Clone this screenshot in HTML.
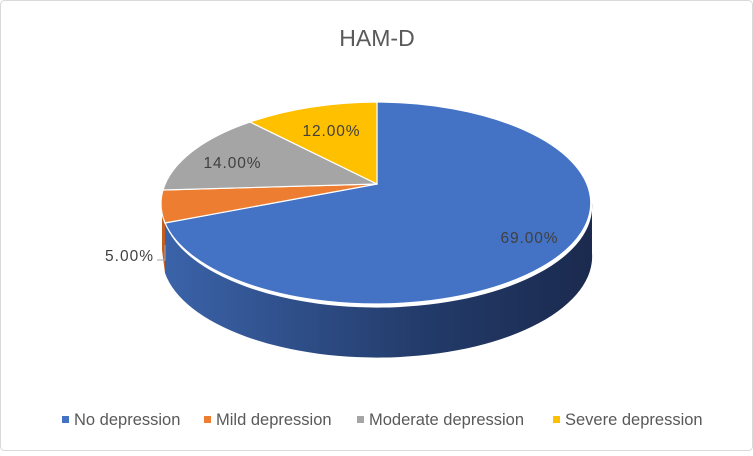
<!DOCTYPE html>
<html><head><style>
html,body{margin:0;padding:0;background:#fff;}
body{width:753px;height:451px;overflow:hidden;font-family:"Liberation Sans",sans-serif;}
</style></head><body>
<svg width="753" height="451" xmlns="http://www.w3.org/2000/svg">
<defs>
<linearGradient id="g" x1="0" x2="1" y1="0" y2="0">
<stop offset="0" stop-color="#3b63a9"/>
<stop offset="0.6" stop-color="#233b6a"/>
<stop offset="1" stop-color="#1b2a4e"/>
</linearGradient>
</defs>
<rect x="0.5" y="0.5" width="752" height="450" rx="4" fill="#fff" stroke="#d9d9d9"/>
<text x="377" y="46" text-anchor="middle" font-size="23" fill="#595959">HAM-D</text>
<path d="M165,223 A215,101 0 0,0 592,203 L592,253 A215,101 0 0,1 165,273 Z" fill="url(#g)"/>
<path d="M162,200 L165,223 L165,273 L162,250 Z" fill="#c45f1f"/>
<g stroke="#fff" stroke-width="1.2">
<path d="M377,184 L377,102 A215,101 0 1,1 165,223 Z" fill="#4472c4"/>
<path d="M377,184 L165,223 A215,101 0 0,1 163,190 Z" fill="#ed7d31"/>
<path d="M377,184 L163,190 A215,101 0 0,1 250,122 Z" fill="#a5a5a5"/>
<path d="M377,184 L250,122 A215,101 0 0,1 377,102 Z" fill="#ffc000"/>
</g>
<polyline points="157,260 165,260 165,245" fill="none" stroke="#a6a6a6" stroke-width="1"/>
<g font-size="15.5" fill="#404040">
<text x="529" y="243" text-anchor="middle" textLength="57">69.00%</text>
<text x="232" y="168" text-anchor="middle" textLength="57">14.00%</text>
<text x="331" y="136" text-anchor="middle" textLength="57">12.00%</text>
<text x="129" y="261" text-anchor="middle" textLength="48">5.00%</text>
</g>
<g font-size="16.5" fill="#595959">
<rect x="62" y="416" width="7" height="7" fill="#4472c4"/><text x="74" y="425">No depression</text>
<rect x="204" y="416" width="7" height="7" fill="#ed7d31"/><text x="216" y="425">Mild depression</text>
<rect x="357" y="416" width="7" height="7" fill="#a5a5a5"/><text x="369" y="425">Moderate depression</text>
<rect x="553" y="416" width="7" height="7" fill="#ffc000"/><text x="565" y="425">Severe depression</text>
</g>
</svg>
</body></html>
